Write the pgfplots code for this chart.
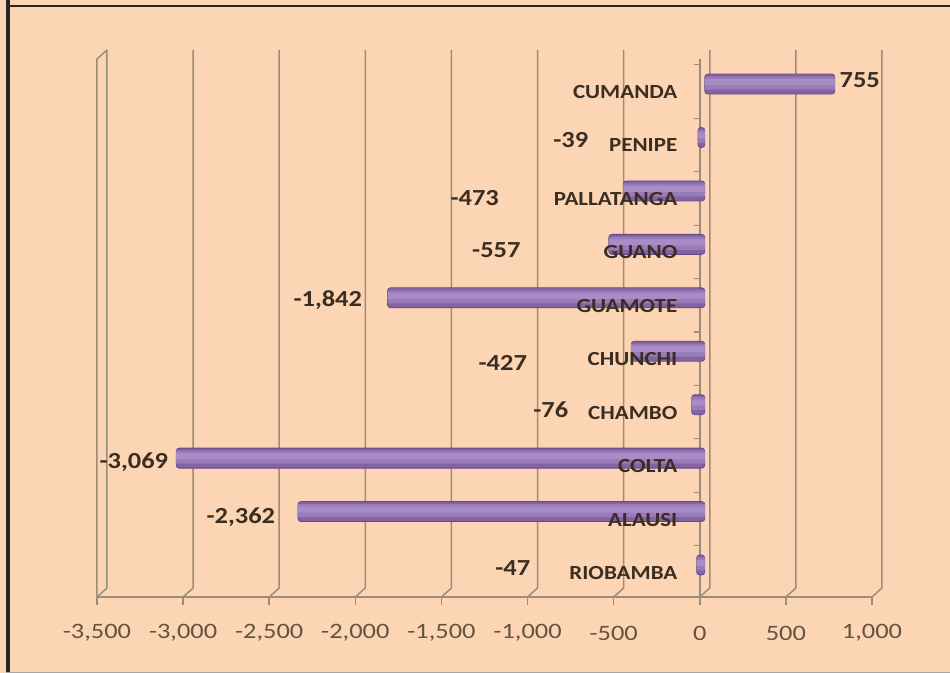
\documentclass[border=0pt]{standalone}
\usepackage{pgfplots}
\usepackage{pgfplotstable}
\pgfplotsset{compat=1.18}
\usepackage{fontspec}
\setmainfont{Carlito}
\newfontfamily\tickf[FakeStretch=1.2]{Carlito}
\newfontfamily\labf[FakeStretch=1.15]{Carlito}
\definecolor{bg}{HTML}{FCD5B4}
\definecolor{gridc}{HTML}{9E8C7A}
\definecolor{tickc}{HTML}{65523F}
\definecolor{labc}{HTML}{3A2E22}
\definecolor{barBase}{HTML}{8363A2}
\definecolor{barMid}{HTML}{9A7BB9}
\definecolor{barHi}{HTML}{A98CC6}
\definecolor{barEdge}{HTML}{674887}
\pgfplotstableread{
idx value
0 -47
1 -2362
2 -3069
3 -76
4 -427
5 -1842
6 -557
7 -473
8 -39
9 755
}\datatable
\begin{document}
\begin{tikzpicture}
\useasboundingbox (0,0) rectangle (475pt,336.5pt);
\fill[bg] (0,0) rectangle (475pt,336.5pt);
\fill[black!85] (3pt,0) rectangle (5pt,336.5pt);
\fill[black!85] (3pt,333pt) rectangle (475pt,334.2pt);
\fill[gray!70] (3pt,0) rectangle (475pt,0.7pt);
\begin{axis}[
  at={(48.5pt,38pt)}, anchor=south west,
  scale only axis, width=387.5pt, height=269pt,
  xmin=-3500, xmax=1000, ymin=-0.599, ymax=9.469,
  axis line style={draw=none},
  xtick={-3500,-3000,...,1000},
  xticklabels={{-3,500},{-3,000},{-2,500},{-2,000},{-1,500},{-1,000},{-500},{0},{500},{1,000}},
  xtick style={draw=none},
  ytick=\empty,
  xticklabel style={font=\tickf\fontsize{11}{12}\selectfont, text=tickc, anchor=center, yshift=-18pt},
  clip=false,
]
\pgfplotsinvokeforeach{-3500,-3000,-2500,-2000,-1500,-1000,-500,0,500,1000}{
  \draw[gridc, line width=0.75pt] (axis cs:#1,-0.599) -- ++(5pt,4.5pt) -- ([xshift=5pt,yshift=4.5pt]axis cs:#1,9.469);
  \draw[gridc, line width=0.75pt] (axis cs:#1,-0.599) -- ++(0pt,-4pt);
}
\draw[gridc, line width=0.75pt] (axis cs:-3500,-0.599) -- (axis cs:1000,-0.599);
\draw[gridc, line width=0.75pt] (axis cs:-3500,-0.599) -- (axis cs:-3500,9.469) -- ++(5pt,4.5pt);
\draw[gridc, line width=0.75pt] (axis cs:0,-0.599) -- (axis cs:0,9.469);
\pgfplotsinvokeforeach{0.36,1.36,2.36,3.36,4.36,5.36,6.36,7.36,8.36,9.36}{
  \draw[gridc, line width=0.6pt] (axis cs:0,#1) -- ++(-3pt,0pt);
}
\addplot[xbar, bar width=10pt, bar shift=0pt, xshift=2.5pt, draw=barEdge, line width=0.4pt,
  fill=barBase, rounded corners=1.5pt]
  table[x=value, y=idx]{\datatable};
\addplot[xbar, bar width=6.5pt, bar shift=0.5pt, xshift=2.5pt, draw=none, fill=barMid]
  table[x=value, y=idx]{\datatable};
\addplot[xbar, bar width=3pt, bar shift=1pt, xshift=2.5pt, draw=none, fill=barHi]
  table[x=value, y=idx]{\datatable};
\tikzset{vlab/.style={font=\labf\bfseries\fontsize{11.5}{12}\selectfont, text=labc, inner sep=0pt, anchor=center},
         clab/.style={font=\labf\bfseries\fontsize{10}{11}\selectfont, text=labc, inner sep=0pt, anchor=east}}
\node[vlab] at (axis cs:929,9.076) {755};
\node[vlab] at (axis cs:-749,7.953) {-39};
\node[vlab] at (axis cs:-1307,6.868) {-473};
\node[vlab] at (axis cs:-1181,5.894) {-557};
\node[vlab] at (axis cs:-2160,4.959) {-1,842};
\node[vlab] at (axis cs:-1144,3.78) {-427};
\node[vlab] at (axis cs:-865,2.9) {-76};
\node[vlab] at (axis cs:-3286,1.927) {-3,069};
\node[vlab] at (axis cs:-2665,0.898) {-2,362};
\node[vlab] at (axis cs:-1086,-0.056) {-47};
\node[clab] at (axis cs:-128,8.85) {CUMANDA};
\node[clab] at (axis cs:-128,7.85) {PENIPE};
\node[clab] at (axis cs:-128,6.85) {PALLATANGA};
\node[clab] at (axis cs:-128,5.85) {GUANO};
\node[clab] at (axis cs:-128,4.85) {GUAMOTE};
\node[clab] at (axis cs:-128,3.85) {CHUNCHI};
\node[clab] at (axis cs:-128,2.85) {CHAMBO};
\node[clab] at (axis cs:-128,1.85) {COLTA};
\node[clab] at (axis cs:-128,0.85) {ALAUSI};
\node[clab] at (axis cs:-128,-0.15) {RIOBAMBA};
\end{axis}
\end{tikzpicture}
\end{document}
